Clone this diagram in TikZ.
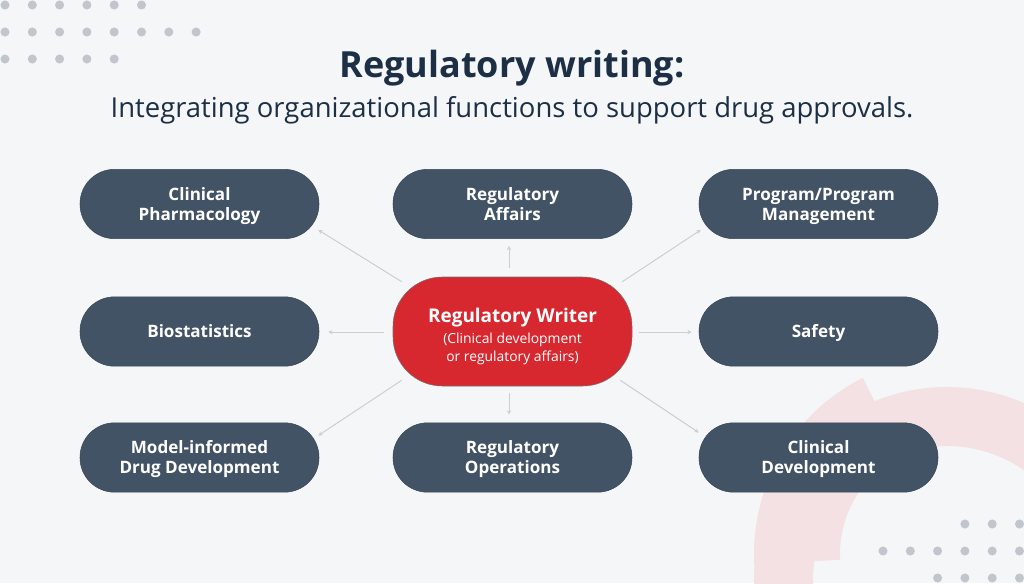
\documentclass[tikz,border=0pt]{standalone}
\usepackage{fontspec}
\setmainfont{Open Sans}
\usetikzlibrary{arrows.meta}
\definecolor{bgc}{HTML}{F5F6F8}
\definecolor{ringc}{HTML}{F3E1E3}
\definecolor{dotc}{HTML}{C1C6CD}
\definecolor{pillc}{HTML}{425366}
\definecolor{redc}{HTML}{D7282F}
\definecolor{inkc}{HTML}{1C2F45}
\definecolor{linec}{HTML}{CBCFD4}
\newcommand{\hubmain}{\fontsize{14.2}{18}\selectfont\bfseries}
\newcommand{\hubsub}{\fontsize{10.4}{12.8}\selectfont}
\newcommand{\lineA}{\rule{0pt}{13.5pt}}
\tikzset{
  x=0.75pt,y=-0.75pt,
  pill/.style={draw=pillc!85!black,line width=0.4pt,fill=pillc,text=white,minimum width=179.25pt,minimum height=52pt,rounded corners=25.9pt,inner sep=0pt,align=center,font=\fontsize{12.8}{15}\selectfont\bfseries},
  hub/.style={draw=black!55,line width=0.4pt,fill=redc,text=white,minimum width=179.25pt,minimum height=81.75pt,rounded corners=37pt,inner sep=0pt,align=center},
  conn/.style={draw=linec,line width=0.75pt,-{Stealth[length=3.2pt,width=3.2pt]}},
  dotm/.style={fill=dotc,draw=none},
  titlet/.style={text=inkc,inner sep=0pt,anchor=center}
}
\begin{document}
\begin{tikzpicture}
\useasboundingbox (0,0) rectangle (1024,583);
\fill[bgc] (0,0) rectangle (1024,583);
\begin{scope}
\clip (0,0) rectangle (1024,583);
% ring, right part
\fill[ringc] (947,580) ++(112.7:144.75pt) arc[start angle=112.7,end angle=-20,radius=144.75pt]
  -- ++(160:44.25pt) arc[start angle=-20,end angle=112.7,radius=100.5pt] -- cycle;
% ring, raised left segment
\fill[ringc] (951,554) ++(116.6:147.75pt) arc[start angle=116.6,end angle=183,radius=147.75pt]
  -- ++(3:64.5pt) arc[start angle=183,end angle=116.6,radius=83.25pt] -- cycle;
% ring, lower left part
\fill[ringc] (947,580) ++(171.4:144.75pt) arc[start angle=171.4,end angle=215,radius=144.75pt]
  -- ++(35:44.25pt) arc[start angle=215,end angle=171.4,radius=100.5pt] -- cycle;
% dots
\foreach \y/\n in {5/5,32/7,59/4}{
  \foreach \i in {0,...,\n}{\fill[dotm] ({5+27.3*\i},\y) circle[radius=3.4pt];}
}
\foreach \y/\s in {524/3,551/0,578/2}{
  \foreach \i in {\s,...,5}{\fill[dotm] ({883+27.3*\i},\y) circle[radius=3.4pt];}
}
\end{scope}
\node[titlet,font=\fontsize{27}{32}\selectfont\bfseries] (title) at (512,68) {Regulatory writing:};
\node[titlet,font=\fontsize{20.6}{24}\selectfont] (sub) at (512,110) {Integrating organizational functions to support drug approvals.};
\node[pill] (cp) at (199.5,204) {\lineA Clinical\\Pharmacology\strut};
\node[pill] (ra) at (512.5,204) {\lineA Regulatory\\Affairs\strut};
\node[pill] (pm) at (818.5,204) {\lineA Program/Program\\Management\strut};
\node[pill] (bs) at (199.5,331.5) {\lineA Biostatistics\strut};
\node[pill] (sf) at (818.5,331.5) {\lineA Safety\strut};
\node[pill] (mi) at (199.5,457.5) {\lineA Model-informed\\Drug Development\strut};
\node[pill] (ro) at (512.5,457.5) {\lineA Regulatory\\Operations\strut};
\node[pill] (cd) at (818.5,457.5) {\lineA Clinical\\Development\strut};
\node[hub] (w) at (512.5,331.5) {\hubmain\rule{0pt}{19.4pt}Regulatory Writer\strut\\[0.5pt]\hubsub (Clinical development\strut\\\hubsub or regulatory affairs)\strut};
\draw[conn] ([shift={(-3.5,-9)}]w.north) -- ([shift={(-3.5,7)}]ra.south);
\draw[conn] ([shift={(-3.5,7)}]w.south) -- ([shift={(-3.5,-8)}]ro.north);
\draw[conn] ([shift={(-9,0.5)}]w.west) -- ([shift={(9,0.5)}]bs.east);
\draw[conn] ([shift={(7,0.5)}]w.east) -- ([shift={(-7,0.5)}]sf.west);
\draw[conn] ([shift={(9,5)}]w.north west) -- ([shift={(-1,-9)}]cp.south east);
\draw[conn] ([shift={(-10,5)}]w.north east) -- ([shift={(2,-9)}]pm.south west);
\draw[conn] ([shift={(9,-6)}]w.south west) -- ([shift={(-1,13)}]mi.north east);
\draw[conn] ([shift={(-12,-6)}]w.south east) -- ([shift={(0,10)}]cd.north west);
\end{tikzpicture}
\end{document}
